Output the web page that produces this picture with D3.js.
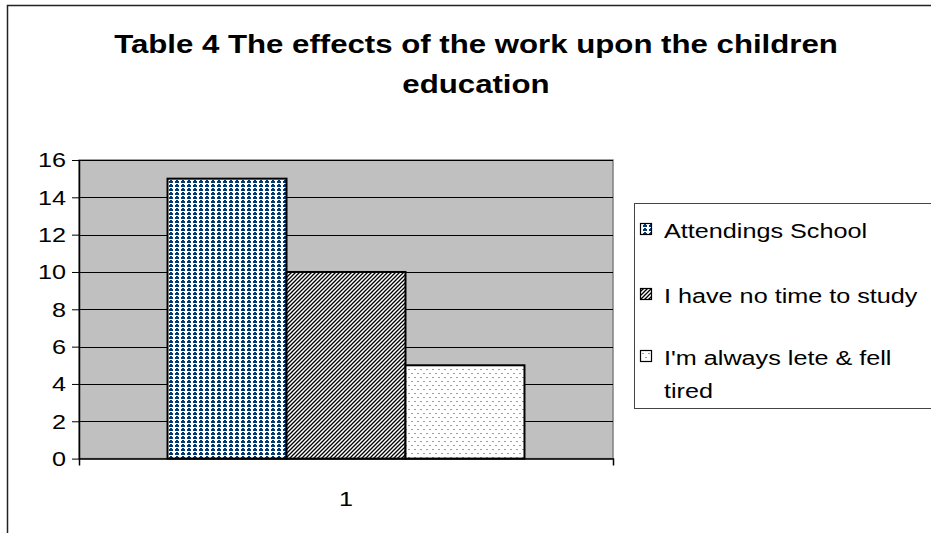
<!DOCTYPE html>
<html>
<head>
<meta charset="utf-8">
<script src="https://cdn.jsdelivr.net/npm/d3@7"></script>
<style>
  html, body { margin: 0; padding: 0; background: #fff; }
  svg { display: block; font-family: "Liberation Sans", Arial, sans-serif; }
</style>
</head>
<body>
<svg id="chart" width="931" height="533"></svg>
<script>
// Chart data
const titleLines = ["Table 4 The effects of the work upon the children", "education"];
const categories = ["1"];
const seriesNames = ["Attendings School", "I have no time to study", "I'm always lete & fell tired"];
const seriesValues = [15, 10, 5];
const yTicks = [0, 2, 4, 6, 8, 10, 12, 14, 16];
const patternIds = ["pat-dots", "pat-hatch", "pat-speckle"];

// Text in this chart is drawn wide: glyphs are stretched horizontally.
const SX = 1.2;
const FONT = "Liberation Sans, Arial, sans-serif";
const LABEL_SIZE = 21;
const TITLE_SIZE = 26;

const svg = d3.select("#chart");
const defs = svg.append("defs");

// Navy plus-dot grid
const p1 = defs.append("pattern").attr("id", "pat-dots")
  .attr("patternUnits", "userSpaceOnUse").attr("width", 6).attr("height", 4);
p1.append("rect").attr("width", 6).attr("height", 4).attr("fill", "#fff");
p1.append("rect").attr("x", 2).attr("y", 0).attr("width", 2).attr("height", 3).attr("fill", "#023a70");
p1.append("rect").attr("x", 1).attr("y", 1).attr("width", 4).attr("height", 2).attr("fill", "#023a70");

// Diagonal black hatch
const p2 = defs.append("pattern").attr("id", "pat-hatch")
  .attr("patternUnits", "userSpaceOnUse").attr("width", 4).attr("height", 4);
p2.append("rect").attr("width", 4).attr("height", 4).attr("fill", "#fff");
p2.append("path").attr("d", "M-1,1 L1,-1 M0,4 L4,0 M3,5 L5,3")
  .attr("stroke", "#000").attr("stroke-width", 1.3);

// Sparse grey speckle
const p3 = defs.append("pattern").attr("id", "pat-speckle")
  .attr("patternUnits", "userSpaceOnUse").attr("width", 6).attr("height", 8);
p3.append("rect").attr("width", 6).attr("height", 8).attr("fill", "#fff");
p3.append("rect").attr("x", 0).attr("y", 1).attr("width", 2).attr("height", 1).attr("fill", "#9c9c9c");
p3.append("rect").attr("x", 3).attr("y", 5).attr("width", 2).attr("height", 1).attr("fill", "#9c9c9c");

// Outer frame (top and left edges)
svg.append("path").attr("d", "M7.5,533 L7.5,5.5 L931,5.5")
  .attr("fill", "none").attr("stroke", "#222").attr("stroke-width", 1.5);

// Helper: stretched text placed at (x, y)
function wideText(parent, x, y, str, size, anchor, weight) {
  return parent.append("text")
    .attr("transform", `translate(${x},${y}) scale(${SX},1)`)
    .attr("text-anchor", anchor || "start")
    .attr("font-size", size)
    .attr("font-weight", weight || "normal")
    .attr("font-family", FONT)
    .attr("fill", "#000")
    .text(str);
}

// Title
titleLines.forEach((line, i) => wideText(svg, 476, 52.5 + i * 40, line, TITLE_SIZE, "middle", "bold"));

// Plot area
const plot = { left: 79, right: 613, top: 160, bottom: 458.6 };
const y = d3.scaleLinear().domain([0, 16]).range([plot.bottom, plot.top]);
const x = d3.scaleBand().domain(categories).range([plot.left, plot.right]);
const xs = d3.scaleBand().domain(seriesNames)
  .range([0, x.bandwidth()]).paddingOuter(0.744).paddingInner(0);

svg.append("rect")
  .attr("x", plot.left).attr("y", plot.top)
  .attr("width", plot.right - plot.left).attr("height", plot.bottom - plot.top)
  .attr("fill", "#c0c0c0").attr("stroke", "#808080").attr("stroke-width", 1.5);

// Gridlines
svg.append("g").selectAll("line").data(yTicks.filter(t => t > 0)).join("line")
  .attr("x1", plot.left).attr("x2", plot.right)
  .attr("y1", d => Math.round(y(d)) + 0.5).attr("y2", d => Math.round(y(d)) + 0.5)
  .attr("stroke", "#000").attr("stroke-width", 1);

// Bars
svg.append("g").selectAll("rect").data(seriesValues).join("rect")
  .attr("x", (d, i) => x(categories[0]) + xs(seriesNames[i]))
  .attr("y", d => y(d))
  .attr("width", xs.bandwidth())
  .attr("height", d => plot.bottom - y(d))
  .attr("fill", (d, i) => `url(#${patternIds[i]})`)
  .attr("stroke", "#000").attr("stroke-width", 2);

// Y axis
const yAxis = svg.append("g")
  .attr("transform", `translate(${plot.left},0)`)
  .call(d3.axisLeft(y).tickValues(yTicks).tickSize(7).tickPadding(6).tickSizeOuter(0));
yAxis.select(".domain").attr("stroke", "#000").attr("stroke-width", 1.5);
yAxis.selectAll(".tick line").attr("stroke", "#000");
yAxis.selectAll("text")
  .attr("font-size", LABEL_SIZE).attr("fill", "#000").attr("font-family", FONT)
  .attr("x", -13 / SX).attr("transform", `scale(${SX},1)`);

// X axis
const xAxis = svg.append("g")
  .attr("transform", `translate(0,${plot.bottom})`)
  .call(d3.axisBottom(x).tickSize(0).tickPadding(32).tickSizeOuter(7));
xAxis.select(".domain").attr("stroke", "#000").attr("stroke-width", 1.5);
xAxis.selectAll(".tick text")
  .attr("font-size", LABEL_SIZE).attr("fill", "#000").attr("font-family", FONT)
  .attr("transform", `scale(${SX},1)`);

// Legend
const legend = svg.append("g");
legend.append("rect")
  .attr("x", 634.5).attr("y", 203.5).attr("width", 310).attr("height", 205)
  .attr("fill", "#fff").attr("stroke", "#444").attr("stroke-width", 1);

const legendRows = [[seriesNames[0]], [seriesNames[1]], ["I'm always lete & fell", "tired"]];
const rowY = [237.5, 302.5, 364.5];
legendRows.forEach((lines, i) => {
  legend.append("rect")
    .attr("x", 640.5).attr("y", rowY[i] - 14).attr("width", 11).attr("height", 11)
    .attr("fill", `url(#${patternIds[i]})`).attr("stroke", "#000").attr("stroke-width", 1.2);
  lines.forEach((line, j) => wideText(legend, 664, rowY[i] + j * 33, line, LABEL_SIZE));
});
</script>
</body>
</html>
